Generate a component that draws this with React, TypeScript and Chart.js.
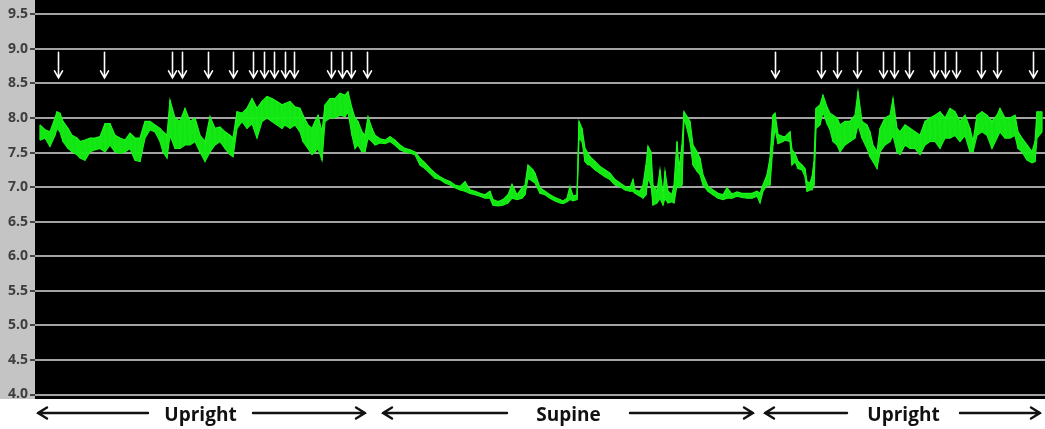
import React, { useEffect, useRef } from 'react';
import { Chart, registerables } from 'chart.js';

Chart.register(...registerables);

// Recording time (arbitrary units across the study) and pH envelope (max / min) at each sample
const sampleTimes = [
  5, 10, 15, 20, 22, 25, 28, 33, 37, 42, 45, 50, 55, 60, 65, 70, 75, 80, 85, 90,
  95, 100, 105, 110, 115, 120, 125, 128, 132, 135, 140, 145, 150, 155, 160, 165, 170, 175, 180, 185,
  190, 195, 198, 202, 207, 212, 217, 222, 227, 232, 237, 242, 247, 250, 255, 260, 265, 268, 273, 277,
  280, 283, 287, 290, 295, 300, 305, 310, 313, 317, 320, 323, 327, 330, 333, 337, 340, 345, 350, 355,
  360, 365, 370, 375, 380, 385, 390, 395, 400, 405, 410, 415, 420, 425, 430, 435, 440, 445, 450, 455,
  458, 463, 468, 473, 477, 482, 487, 490, 493, 498, 500, 505, 510, 515, 520, 525, 528, 532, 535, 538,
  542, 544, 547, 550, 553, 555, 560, 565, 570, 575, 580, 585, 590, 595, 598, 600, 605, 608, 611, 613,
  616, 618, 622, 625, 628, 630, 633, 637, 639, 642, 644, 647, 649, 652, 655, 658, 662, 665, 668, 673,
  678, 683, 688, 692, 697, 702, 707, 712, 717, 722, 725, 728, 732, 735, 738, 740, 743, 748, 750, 755,
  757, 760, 763, 767, 770, 772, 775, 777, 779, 781, 785, 788, 792, 795, 798, 802, 805, 810, 815, 820,
  823, 827, 832, 835, 838, 842, 845, 850, 855, 858, 862, 865, 870, 875, 880, 885, 890, 895, 900, 905,
  910, 915, 920, 925, 930, 935, 938, 942, 947, 952, 957, 962, 965, 970, 975, 980, 983, 987, 992, 997,
  1000, 1002, 1007,
];

const phHigh = [
  7.90, 7.83, 7.80, 8.00, 8.09, 8.07, 7.95, 7.85, 7.75, 7.71, 7.66, 7.68, 7.71, 7.71, 7.73, 7.92, 7.92, 7.75, 7.71, 7.68,
  7.78, 7.71, 7.71, 7.95, 7.95, 7.90, 7.85, 7.80, 7.75, 8.26, 8.00, 7.95, 8.14, 7.95, 8.00, 7.75, 7.66, 8.02, 7.85, 7.87,
  7.80, 7.75, 7.71, 8.09, 8.07, 8.14, 8.28, 8.14, 8.24, 8.31, 8.28, 8.24, 8.19, 8.21, 8.24, 8.16, 8.14, 8.04, 7.90, 7.85,
  7.95, 8.04, 7.80, 8.19, 8.28, 8.28, 8.36, 8.33, 8.38, 8.14, 8.00, 7.95, 7.80, 7.75, 8.02, 7.85, 7.75, 7.70, 7.68, 7.73,
  7.68, 7.61, 7.56, 7.54, 7.51, 7.42, 7.35, 7.27, 7.20, 7.15, 7.11, 7.08, 7.03, 7.01, 7.08, 6.96, 6.94, 6.91, 6.89, 6.94,
  6.82, 6.79, 6.82, 6.89, 7.04, 6.89, 6.99, 7.03, 7.32, 7.25, 7.20, 6.99, 6.94, 6.89, 6.85, 6.82, 6.80, 6.84, 7.01, 6.87,
  6.89, 7.95, 7.85, 7.56, 7.49, 7.44, 7.37, 7.30, 7.25, 7.20, 7.11, 7.06, 7.01, 6.99, 7.11, 6.96, 6.94, 7.03, 7.32, 7.59,
  7.51, 7.03, 6.94, 7.25, 6.89, 7.23, 6.94, 6.89, 7.03, 7.66, 7.27, 7.61, 8.09, 8.02, 7.95, 7.61, 7.51, 7.42, 7.18, 7.01,
  6.96, 6.91, 6.89, 6.99, 6.90, 6.93, 6.91, 6.91, 6.91, 6.94, 6.91, 7.03, 7.18, 7.42, 8.04, 8.07, 7.76, 7.73, 7.73, 7.80,
  7.54, 7.49, 7.37, 7.32, 7.27, 7.08, 7.06, 7.15, 7.37, 8.14, 8.19, 8.33, 8.16, 8.07, 8.04, 8.00, 7.90, 7.95, 7.95, 8.04,
  8.38, 7.95, 7.90, 7.80, 7.61, 7.51, 7.85, 8.00, 8.04, 8.28, 7.85, 7.80, 7.90, 7.85, 7.80, 7.75, 7.95, 8.00, 8.04, 8.09,
  8.00, 8.14, 8.09, 7.95, 8.04, 7.85, 7.66, 8.04, 8.09, 8.04, 7.95, 8.04, 8.14, 8.00, 8.00, 8.04, 7.80, 7.71, 7.61, 7.51,
  7.66, 8.09, 8.09,
];

const phLow = [
  7.68, 7.71, 7.59, 7.75, 7.85, 7.80, 7.66, 7.56, 7.51, 7.47, 7.42, 7.39, 7.51, 7.54, 7.56, 7.51, 7.61, 7.51, 7.49, 7.51,
  7.56, 7.39, 7.37, 7.71, 7.83, 7.80, 7.66, 7.51, 7.42, 7.75, 7.56, 7.56, 7.61, 7.61, 7.66, 7.51, 7.37, 7.51, 7.61, 7.66,
  7.56, 7.47, 7.44, 7.85, 7.95, 7.85, 7.92, 7.71, 7.95, 8.00, 7.95, 7.90, 7.85, 7.90, 7.85, 7.90, 7.80, 7.66, 7.56, 7.47,
  7.51, 7.56, 7.39, 7.95, 8.00, 8.00, 8.04, 8.02, 8.09, 7.75, 7.56, 7.61, 7.51, 7.51, 7.71, 7.66, 7.61, 7.64, 7.63, 7.66,
  7.61, 7.54, 7.51, 7.49, 7.47, 7.32, 7.27, 7.20, 7.13, 7.11, 7.06, 7.03, 6.99, 6.96, 6.94, 6.91, 6.89, 6.87, 6.84, 6.84,
  6.74, 6.73, 6.74, 6.77, 6.84, 6.82, 6.84, 6.89, 7.13, 7.08, 7.06, 6.91, 6.89, 6.84, 6.80, 6.77, 6.76, 6.79, 6.82, 6.80,
  6.82, 7.71, 7.66, 7.37, 7.32, 7.32, 7.25, 7.20, 7.15, 7.11, 7.03, 7.01, 6.96, 6.94, 6.94, 6.91, 6.87, 6.84, 6.89, 7.13,
  7.03, 6.74, 6.77, 6.84, 6.74, 6.84, 6.77, 6.79, 6.77, 7.03, 6.99, 7.03, 8.00, 7.85, 7.66, 7.32, 7.23, 7.18, 7.03, 6.94,
  6.89, 6.84, 6.82, 6.84, 6.84, 6.87, 6.85, 6.84, 6.84, 6.87, 6.77, 6.94, 7.03, 7.03, 7.61, 7.85, 7.63, 7.66, 7.68, 7.66,
  7.32, 7.37, 7.27, 7.25, 7.15, 6.94, 6.96, 6.96, 7.03, 7.85, 7.90, 8.09, 7.92, 7.83, 7.66, 7.61, 7.51, 7.61, 7.66, 7.71,
  7.90, 7.71, 7.56, 7.44, 7.37, 7.27, 7.51, 7.61, 7.66, 7.75, 7.51, 7.47, 7.61, 7.56, 7.56, 7.47, 7.61, 7.66, 7.66, 7.56,
  7.71, 7.71, 7.75, 7.66, 7.75, 7.51, 7.51, 7.75, 7.80, 7.75, 7.56, 7.71, 7.80, 7.71, 7.71, 7.75, 7.56, 7.51, 7.39, 7.35,
  7.37, 7.71, 7.80,
];

const yTickValues = [4.0, 4.5, 5.0, 5.5, 6.0, 6.5, 7.0, 7.5, 8.0, 8.5, 9.0, 9.5];

// Event markers (down arrows)
const eventTimes = [
  23, 69, 137, 147, 173, 198, 218, 229, 239, 250, 259, 296, 307, 316, 332,
  740, 786, 802, 822, 848, 859, 874, 899, 910, 921, 946, 962, 998,
];

// Body position periods
const phaseLabels = ['Upright', 'Supine', 'Upright'];
const phaseStart = [3, 348, 730];
const phaseEnd = [330, 718, 1005];
const phaseTextFrom = [113, 472, 812];
const phaseTextTo = [218, 595, 925];

const T_MIN = 0;
const T_MAX = 1010;
const PH_MIN = 3.935;
const PH_MAX = 9.707;
const EVENT_PH_TOP = 8.95;
const EVENT_PH_BOTTOM = 8.58;

const backgroundPlugin = {
  id: 'phBackground',
  beforeDraw(chart: any) {
    const { ctx, chartArea: a } = chart;
    ctx.save();
    ctx.fillStyle = '#ffffff';
    ctx.fillRect(0, 0, chart.width, chart.height);
    ctx.fillStyle = '#c4c4c4';
    ctx.fillRect(0, 0, a.left, a.bottom);
    ctx.fillStyle = '#000000';
    ctx.fillRect(a.left, a.top, a.right - a.left, a.bottom - a.top);
    ctx.restore();
  },
};

const eventArrowPlugin = {
  id: 'eventArrows',
  afterDatasetsDraw(chart: any) {
    const { ctx } = chart;
    const xs = chart.scales.x;
    const ys = chart.scales.y;
    const yTop = ys.getPixelForValue(EVENT_PH_TOP);
    const yBot = ys.getPixelForValue(EVENT_PH_BOTTOM);
    ctx.save();
    ctx.strokeStyle = '#ffffff';
    ctx.lineWidth = 1.6;
    ctx.lineCap = 'round';
    eventTimes.forEach((t) => {
      const x = Math.round(xs.getPixelForValue(t)) + 0.5;
      ctx.beginPath();
      ctx.moveTo(x, yTop);
      ctx.lineTo(x, yBot);
      ctx.moveTo(x - 4, yBot - 7);
      ctx.lineTo(x, yBot);
      ctx.lineTo(x + 4, yBot - 7);
      ctx.stroke();
    });
    ctx.restore();
  },
};

const phasePlugin = {
  id: 'phases',
  afterDraw(chart: any) {
    const { ctx, chartArea } = chart;
    const xs = chart.scales.x;
    const yLine = chartArea.bottom + 14;
    const yText = chartArea.bottom + 22;
    ctx.save();
    ctx.strokeStyle = '#111111';
    ctx.fillStyle = '#111111';
    ctx.lineWidth = 2.4;
    ctx.lineCap = 'round';
    ctx.lineJoin = 'miter';
    ctx.font = 'bold 19px "Open Sans", "Liberation Sans", sans-serif';
    ctx.textAlign = 'center';
    ctx.textBaseline = 'alphabetic';
    phaseLabels.forEach((label, i) => {
      const x0 = xs.getPixelForValue(phaseStart[i]);
      const x1 = xs.getPixelForValue(phaseEnd[i]);
      const a = xs.getPixelForValue(phaseTextFrom[i]);
      const b = xs.getPixelForValue(phaseTextTo[i]);
      ctx.beginPath();
      ctx.moveTo(x0, yLine);
      ctx.lineTo(a, yLine);
      ctx.moveTo(b, yLine);
      ctx.lineTo(x1, yLine);
      ctx.moveTo(x0 + 9, yLine - 5.5);
      ctx.lineTo(x0, yLine);
      ctx.lineTo(x0 + 9, yLine + 5.5);
      ctx.moveTo(x1 - 9, yLine - 5.5);
      ctx.lineTo(x1, yLine);
      ctx.lineTo(x1 - 9, yLine + 5.5);
      ctx.stroke();
      ctx.fillText(label, (a + b) / 2, yText);
    });
    ctx.restore();
  },
};

export default function App() {
  const canvasRef = useRef<HTMLCanvasElement>(null);

  useEffect(() => {
    document.body.style.margin = '0';
    const zigzag: { x: number; y: number }[] = [];
    sampleTimes.forEach((t, i) => {
      zigzag.push({ x: t, y: phHigh[i] });
      zigzag.push({ x: t, y: phLow[i] });
    });
    const highPts = sampleTimes.map((t, i) => ({ x: t, y: phHigh[i] }));
    const lowPts = sampleTimes.map((t, i) => ({ x: t, y: phLow[i] }));

    const chart = new Chart(canvasRef.current as HTMLCanvasElement, {
      type: 'line',
      data: {
        datasets: [
          {
            label: 'pH max',
            data: highPts,
            borderColor: '#1cf51c',
            borderWidth: 1.2,
            backgroundColor: 'rgba(20, 238, 20, 0.95)',
            fill: '+1',
            pointRadius: 0,
            tension: 0,
          },
          {
            label: 'pH min',
            data: lowPts,
            borderColor: '#1cf51c',
            borderWidth: 1.2,
            pointRadius: 0,
            tension: 0,
            fill: false,
          },
          {
            label: 'pH',
            data: zigzag,
            borderColor: '#0cc40c',
            borderWidth: 0.8,
            pointRadius: 0,
            tension: 0,
            fill: false,
          },
        ],
      },
      options: {
        responsive: false,
        animation: false,
        events: [],
        layout: { padding: { left: 0, right: 0, top: 0, bottom: 30 } },
        plugins: {
          legend: { display: false },
          tooltip: { enabled: false },
          title: { display: false },
        },
        scales: {
          x: {
            type: 'linear',
            display: false,
            min: T_MIN,
            max: T_MAX,
          },
          y: {
            type: 'linear',
            min: PH_MIN,
            max: PH_MAX,
            border: { display: false },
            grid: {
              color: '#a3a3a3',
              lineWidth: 2,
              drawTicks: true,
              tickLength: 5,
              tickColor: '#454545',
              tickWidth: 2,
            },
            ticks: {
              color: '#3e3e3e',
              padding: 2,
              font: { family: '"Open Sans", "Liberation Sans", sans-serif', size: 14, weight: 'bold' },
              callback: (v: any) => Number(v).toFixed(1),
            },
            afterBuildTicks: (axis: any) => {
              axis.ticks = yTickValues.map((v) => ({ value: v }));
            },
            afterFit: (axis: any) => {
              axis.width = 35;
              axis.paddingTop = 0;
              axis.paddingBottom = 0;
            },
          },
        },
      },
      plugins: [backgroundPlugin, eventArrowPlugin, phasePlugin],
    } as any);

    return () => chart.destroy();
  }, []);

  return (
    <div style={{ position: 'absolute', left: 0, top: 0, width: 1045, height: 429 }}>
      <canvas
        ref={canvasRef}
        width={1045}
        height={429}
        style={{ display: 'block', width: 1045, height: 429 }}
      />
    </div>
  );
}
